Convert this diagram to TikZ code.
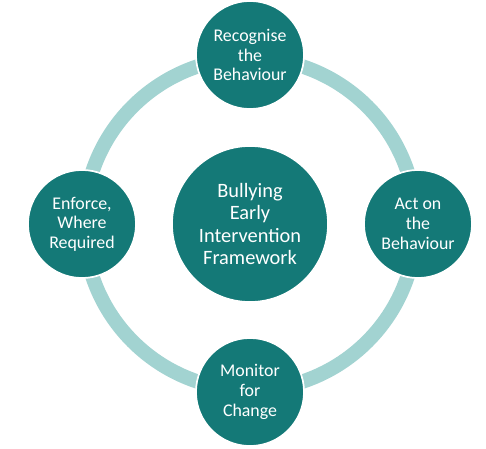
\documentclass[tikz,border=0pt]{standalone}
\usepackage{fontspec}
\setmainfont{Carlito}
\usepackage{tikz}
\usepackage{xcolor}

\definecolor{tealdark}{RGB}{20,121,119}
\definecolor{teallight}{RGB}{162,211,209}

\begin{document}
\begin{tikzpicture}[
    x=0.025cm, y=-0.025cm,
    stage/.style={
      draw=white,
      line width=1.2pt,
      fill=tealdark,
      circle,
      align=center,
      text=white,
      inner sep=0pt,
      minimum size=2.7cm,
      font=\fontsize{12.7}{14}\selectfont
    },
    hub/.style={
      stage,
      minimum size=3.9cm,
      font=\fontsize{14.5}{15.7}\selectfont
    },
    ring/.style={
      draw=teallight,
      line width=0.36cm
    }
  ]

    \useasboundingbox (0,0) rectangle (486,448);

    % Centre
    \node[hub] (centre) at (250,224)
      {Bullying\\Early\\Intervention\\Framework};

    % Ring
    \draw[ring] (centre) circle (4.15cm);

    % Stages
    \node[stage] (recognise) at (250,55)
      {Recognise\\the\\Behaviour};

    \node[stage] (act) at (418,224)
      {Act on\\the\\Behaviour};

    \node[stage] (monitor) at (250,392)
      {Monitor\\for\\Change};

    \node[stage] (enforce) at (82,224)
      {Enforce,\\Where\\Required};

  \end{tikzpicture}
\end{document}
